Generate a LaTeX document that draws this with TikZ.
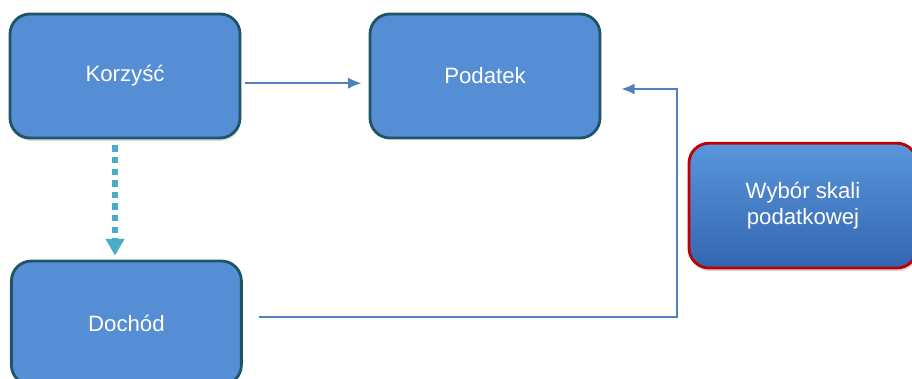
\documentclass[tikz,border=0pt]{standalone}
\usepackage{fontspec}
\setmainfont{Liberation Sans}
\usepackage{tikz}
\usetikzlibrary{positioning,calc,arrows.meta,shadows}

\definecolor{boxblue}{HTML}{558ED5}
\definecolor{boxedge}{HTML}{1F5567}
\definecolor{linkblue}{HTML}{4F81BD}
\definecolor{dotteal}{HTML}{4BACC6}
\definecolor{scaletop}{HTML}{5A96DC}
\definecolor{scalebot}{HTML}{3366B0}
\definecolor{scaleedge}{HTML}{C00000}

\begin{document}
\begin{tikzpicture}[
		stage/.style={draw=boxedge,line width=2pt,fill=boxblue,rounded corners=0.5cm,
			minimum width=5.75cm,minimum height=3.1cm,text=white,
			font=\fontsize{15.8}{19}\selectfont},
		choice/.style={stage,draw=scaleedge,top color=scaletop,bottom color=scalebot,
			align=center,font=\fontsize{15.8}{18.5}\selectfont,
			drop shadow={opacity=0.3,shadow xshift=0.03cm,shadow yshift=-0.08cm}},
		link/.style={-{Latex[length=0.33cm,width=0.28cm]},draw=linkblue,line width=1.3pt},
		dotlink/.style={-{Triangle[length=0.42cm,width=0.45cm]},draw=dotteal,line width=0.17cm,
			dash pattern=on 0.16cm off 0.13cm}
	]
		\useasboundingbox (0,0) rectangle (22.8,-9.475);
		\node[stage,drop shadow={opacity=0.25,shadow xshift=0.02cm,shadow yshift=-0.07cm}] (k) at (3.125,-1.9) {Korzyść};
		\node[stage] (p) at (12.125,-1.9) {Podatek};
		\node[stage] (d) at (3.16,-8.075) {Dochód};
		\node[choice,minimum width=5.7cm,minimum height=3.12cm] (w) at (20.075,-5.14) {Wybór skali\\podatkowej};
		\coordinate (turn) at (16.925,-5);
		
		\draw[link,shorten <=0.1cm,shorten >=0.18cm] ([yshift=-0.18cm]k.east) -- ([yshift=-0.18cm]p.west);
		\draw[link,shorten <=0.4cm,shorten >=0.5cm] ([yshift=0.15cm]d.east) -| (turn) |- ([yshift=-0.325cm]p.east);
		\draw[dotlink,shorten <=0.15cm,shorten >=0.1cm] ([xshift=-0.25cm]k.south) -- ([xshift=-0.25cm]k.south |- d.north);
	\end{tikzpicture}
\end{document}
